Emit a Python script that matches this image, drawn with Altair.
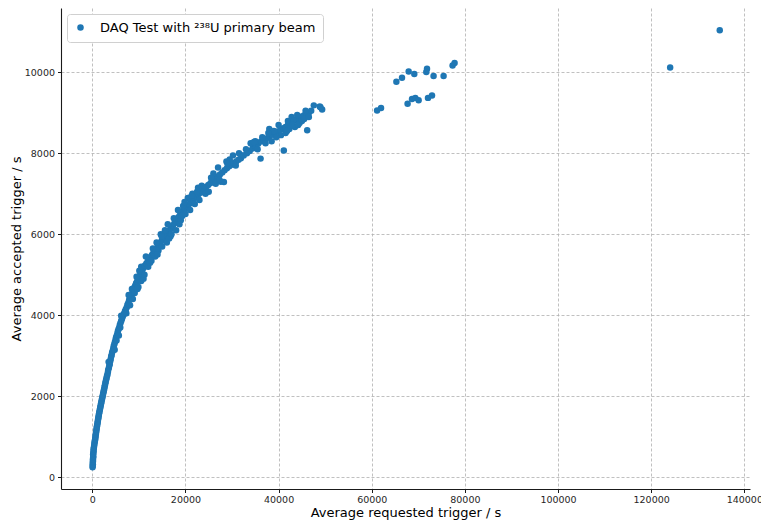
import altair as alt
import pandas as pd

# Segment lists (requested trigger / s, accepted trigger / s)
seg1_x = [60, 90, 120, 100, 150, 130, 180, 200, 170, 230, 260, 280, 330, 400, 450, 500, 560, 610, 660, 700, 750, 800, 850, 900, 950, 1000, 1060, 1120, 1170, 1220]
seg1_y = [250, 290, 320, 360, 400, 440, 480, 520, 560, 600, 640, 690, 730, 780, 830, 870, 900, 940, 980, 1020, 1060, 1100, 1140, 1180, 1220, 1260, 1300, 1340, 1380, 1420]

seg2_x = [1280, 1340, 1400, 1460, 1530, 1600, 1670, 1740, 1810, 1880, 1950, 2020, 2100, 2170, 2250, 2320, 2400, 2470, 2550, 2630, 2710, 2790, 2870, 2960, 3060]
seg2_y = [1460, 1500, 1540, 1580, 1620, 1660, 1700, 1740, 1780, 1820, 1860, 1900, 1940, 1980, 2020, 2060, 2100, 2140, 2180, 2230, 2270, 2320, 2360, 2410, 2450]

seg3_x = [3150, 3250, 3350, 3400, 3550, 3650, 3750, 3850, 3950, 4050, 4150, 4250, 4400, 4500, 4600, 4750, 4850, 5000, 5100, 5250, 5400, 5500, 5650, 5800, 5900, 6050, 6200, 6350, 6500, 6650, 6800,
          5200, 5700, 4800, 6200, 3500, 6000]
seg3_y = [2500, 2540, 2600, 2650, 2700, 2760, 2800, 2870, 2920, 2980, 3020, 3080, 3130, 3180, 3240, 3290, 3340, 3400, 3450, 3500, 3560, 3610, 3660, 3700, 3760, 3810, 3860, 3910, 3960, 4000, 4040,
          3380, 3500, 3150, 3990, 2850, 3700]

seg4_x = [7000, 7200, 7400, 7550, 7700, 7900, 8050, 8200, 8400, 8600, 8800, 9000, 9200, 9400, 9600, 9800, 10000, 10200, 10400, 10600, 10800, 11000,
          7300, 8100, 8500, 9100, 9900, 10500, 10100, 11000, 8700, 11200, 10500, 9500, 7800, 9700]
seg4_y = [4100, 4150, 4200, 4260, 4300, 4370, 4420, 4450, 4500, 4560, 4620, 4680, 4730, 4790, 4830, 4880, 4930, 4980, 5030, 5080, 5130, 5180,
          4050, 4250, 4650, 4550, 4700, 4850, 5100, 4900, 4400, 5000, 5200, 4950, 4500, 4650]

seg5_x = [11300, 11600, 11900, 12200, 12500, 12800, 13100, 13400, 13700, 14000, 14300, 14600, 14900, 15200, 15500, 15800, 16100, 16400, 16700, 17000,
          11500, 12000, 12400, 13000, 13500, 14200, 14700, 15000, 15300, 16000, 16200, 16800, 15600, 13800, 14900, 12700, 16500, 14000]
seg5_y = [5230, 5280, 5330, 5390, 5440, 5490, 5540, 5590, 5640, 5690, 5740, 5790, 5840, 5890, 5930, 5980, 6030, 6080, 6120, 6170,
          5450, 5200, 5300, 5650, 5450, 5600, 6000, 5700, 6000, 5800, 6250, 5950, 6100, 5800, 5950, 5350, 5900, 5500]

seg6_x = [17300, 17600, 17900, 18200, 18500, 18800, 19100, 19400, 19700, 20000, 20400, 20800, 21200, 21600, 22000, 22400, 22800, 23200, 23600, 24000,
          17500, 18000, 18400, 19000, 19500, 20000, 20500, 21000, 21500, 22000, 22500, 23000, 23500, 17000, 18700, 19800, 21300, 22700, 24300, 19300]
seg6_y = [6220, 6270, 6320, 6380, 6420, 6470, 6520, 6560, 6610, 6650, 6700, 6750, 6800, 6850, 6900, 6940, 6990, 7030, 7080, 7120,
          6400, 6100, 6600, 6350, 6700, 6500, 6900, 6600, 7000, 6750, 7050, 6850, 7200, 6000, 6250, 6800, 6950, 7150, 7000, 6450]

seg7_x = [24400, 24900, 25400, 25900, 26400, 26900, 27400, 27900, 28400, 28900, 29400, 29900, 30400, 30900, 31400, 31900,
          25000, 26000, 26500, 27000, 27600, 28260, 28800, 29500, 30200, 30800, 31500, 25500, 32200, 27300, 29000]
seg7_y = [7170, 7220, 7270, 7320, 7380, 7430, 7480, 7530, 7580, 7630, 7680, 7720, 7760, 7800, 7840, 7880,
          7050, 7500, 7250, 7650, 7300, 7290, 7800, 7850, 7950, 7700, 8000, 7400, 7950, 7350, 7750]

seg8_x = [32500, 33200, 33800, 34400, 35000, 35600, 36200, 36800, 37400, 38000, 38600, 39200, 39800, 40400, 41000,
          33000, 34000, 35000, 35500, 36130, 36500, 37200, 38000, 38500, 39000, 40000, 40500, 34700, 37800, 39500]
seg8_y = [7950, 8000, 8060, 8120, 8180, 8240, 8290, 8330, 8370, 8420, 8460, 8500, 8540, 8580, 8620,
          8100, 8250, 8300, 8100, 7870, 8400, 8250, 8600, 8300, 8550, 8700, 8450, 8280, 8500, 8400]

seg9_x = [41500, 42000, 42500, 43000, 43500, 44000, 44500, 45000, 45500, 46000, 46500, 47000,
          41120, 41500, 42000, 42300, 42800, 43270, 43500, 44000, 44500, 45000, 45500, 46140, 46500, 41800, 43000, 44200, 45800, 47560, 48840, 49350, 48990]
seg9_y = [8650, 8700, 8740, 8780, 8820, 8850, 8880, 8910, 8940, 8970, 9000, 9050,
          8070, 8500, 8800, 8600, 8900, 8815, 8650, 8950, 8750, 8800, 8850, 8570, 8900, 8550, 8700, 8700, 9050, 9185, 9160, 9085, 9140]

seg10_x = [61150, 62000, 65290, 66500, 67930, 69140, 67700, 68650, 69360, 70070, 71870, 71720, 73280, 72080, 72940, 75430, 77360, 77790, 124080, 134730]
seg10_y = [9060, 9120, 9770, 9870, 10020, 9960, 9225, 9345, 9370, 9310, 10090, 10010, 9910, 9370, 9430, 9910, 10170, 10230, 10120, 11040]

series_name = "DAQ Test with ²³⁸U primary beam"
x_ticks = [0, 20000, 40000, 60000, 80000, 100000, 120000, 140000]
y_ticks = [0, 2000, 4000, 6000, 8000, 10000]

xs = seg1_x + seg2_x + seg3_x + seg4_x + seg5_x + seg6_x + seg7_x + seg8_x + seg9_x + seg10_x
ys = seg1_y + seg2_y + seg3_y + seg4_y + seg5_y + seg6_y + seg7_y + seg8_y + seg9_y + seg10_y
df = pd.DataFrame({"req": xs, "acc": ys, "series": series_name})

font = "DejaVu Sans"
axis_common = dict(
    grid=True, gridColor="#b0b0b0", gridDash=[3, 2], gridWidth=0.8,
    domainColor="#1a1a1a", domainWidth=1.1, tickColor="#1a1a1a", tickSize=3.5,
    labelFont=font, labelFontSize=9.5, labelColor="#262626",
    titleFont=font, titleFontSize=13, titleFontWeight="normal", titleColor="#000000",
)

chart = alt.Chart(df).mark_circle(size=42, opacity=1).encode(
    x=alt.X("req:Q", title="Average requested trigger / s",
            scale=alt.Scale(domain=[-6725, 141225], nice=False, zero=False),
            axis=alt.Axis(values=x_ticks, format="d", labelPadding=2, titlePadding=2, **axis_common)),
    y=alt.Y("acc:Q", title="Average accepted trigger / s",
            scale=alt.Scale(domain=[-290, 11590], nice=False, zero=False),
            axis=alt.Axis(values=y_ticks, format="d", labelPadding=3, titlePadding=1, **axis_common)),
    color=alt.Color("series:N", title=None,
                    scale=alt.Scale(range=["#1f77b4"]),
                    legend=alt.Legend(orient="top-left", offset=6, padding=7,
                                      strokeColor="#d0d0d0", fillColor="white", cornerRadius=3,
                                      symbolSize=42, symbolType="circle",
                                      labelFont=font, labelFontSize=13, labelLimit=400,
                                      labelOffset=13, labelColor="#000000")),
).properties(
    width=689, height=481,
    autosize=alt.AutoSizeParams(type="none"),
    padding={"left": 61, "top": 8, "right": 11, "bottom": 33},
).configure_view(stroke=None)

chart.save("out.html", embed_options={"renderer": "svg", "actions": False})
